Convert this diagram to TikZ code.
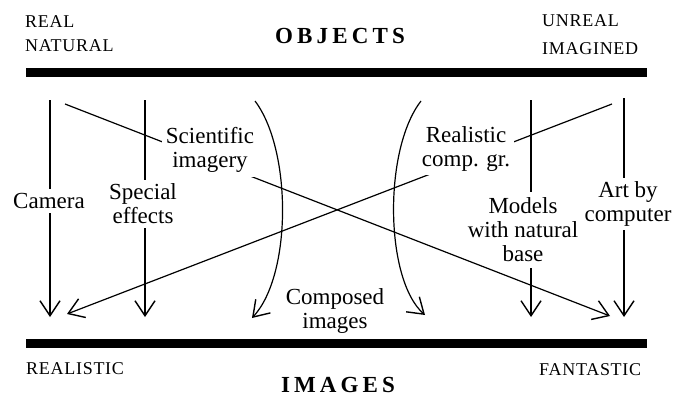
\documentclass[tikz,border=0pt]{standalone}
\usepackage{fontspec}
\setmainfont{Liberation Serif}
\usetikzlibrary{arrows.meta,positioning}

\begin{document}
\begin{tikzpicture}[
  x=1pt, y=-1pt,
  bar/.style={line width=9pt},
  link/.style={line width=1.2pt},
  arrow/.style={link, -{Straight Barb[length=15pt,width=20pt,line width=1.4pt]}},
  lab/.style={fill=white, inner sep=4pt, align=center, font=\fontsize{23}{24}\selectfont},
  caps/.style={inner sep=0pt, anchor=base west, font=\fontsize{18}{20}\selectfont\addfontfeature{LetterSpace=4}},
  title/.style={inner sep=0pt, font=\fontsize{23}{25}\selectfont\bfseries\addfontfeature{LetterSpace=18}}
]
\useasboundingbox (0,0) rectangle (687,396);

% bars
\coordinate (objL) at (26,72.5);
\coordinate (objR) at (647,72.5);
\coordinate (imgL) at (26,343);
\coordinate (imgR) at (647,343);
\draw[bar] (objL) -- (objR);
\draw[bar] (imgL) -- (imgR);

% headings
\node[title] (objects) at (340,36) {OBJECTS};
\node[title] (images) at (338,385) {IMAGES};
\node[caps] (real) at (25,28) {REAL};
\node[caps, below=24pt of real.base west, anchor=base west] (natural) {NATURAL};
\node[caps] (unreal) at (542,27) {UNREAL};
\node[caps, below=27pt of unreal.base west, anchor=base west] (imagined) {IMAGINED};
\node[caps] (realistic) at (26,374) {REALISTIC};
\node[caps] (fantastic) at (539,375) {FANTASTIC};

% ends of the connectors
\coordinate (camA) at (50,100);   \coordinate (camB) at (50,317);
\coordinate (sfxA) at (145,100);  \coordinate (sfxB) at (145,317);
\coordinate (modA) at (531,100);  \coordinate (modB) at (531,317);
\coordinate (artA) at (624,98);   \coordinate (artB) at (624,317);
\coordinate (sciA) at (65,104);   \coordinate (sciB) at (610,316);
\coordinate (rcgA) at (612,104);  \coordinate (rcgB) at (67,314);
\coordinate (cvlA) at (255,101);  \coordinate (cvlB) at (252,318);
\coordinate (cvrA) at (421,101);  \coordinate (cvrB) at (425,315);

% straight arrows
\draw[arrow] (camA) -- (camB);
\draw[arrow] (sfxA) -- (sfxB);
\draw[arrow] (artA) -- (artB);
\draw[arrow] (sciA) -- (sciB);
\draw[arrow] (rcgA) -- (rcgB);

% curved arrows
\draw[arrow] (cvlA) .. controls (292,150) and (292,275) .. (cvlB);
\draw[arrow] (cvrA) .. controls (383,150) and (385,280) .. (cvrB);

% labels
\node[lab] (cam) at (49,201) {Camera};
\node[lab] (sfx) at (143,204) {Special\\effects};
\node[lab] (sci) at (210,150) {Scientific\\imagery};
\node[lab] (comp) at (335,311) {Composed\\images};
\node[lab] (rcg) at (466,149) {Realistic\\comp. gr.};
\node[lab, fill=none, inner sep=6pt] (mod) at (523,230) {Models\\with natural\\base};
\node[lab] (art) at (628,204) {Art by\\computer};

% models arrow, broken by its label
\draw[link] (modA) -- (modA |- mod.north);
\draw[arrow] (modA |- mod.south) -- (modB);

\end{tikzpicture}
\end{document}
